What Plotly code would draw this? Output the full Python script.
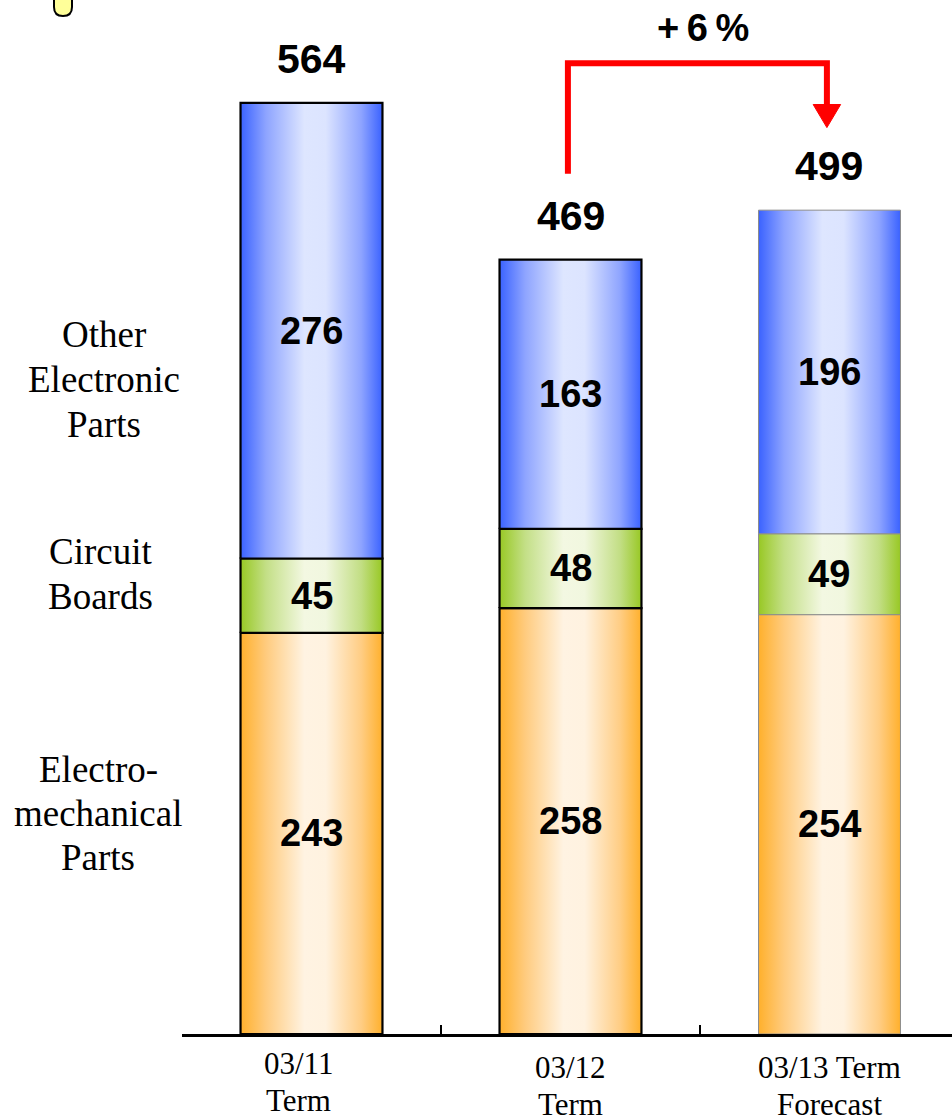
import plotly.graph_objects as go

# Sales by product group (units as shown)
terms = ["03/11<br>Term", "03/12<br>Term", "03/13 Term<br>Forecast"]
electromechanical = [243, 258, 254]
circuit_boards = [45, 48, 49]
other_electronic = [276, 163, 196]
totals = [564, 469, 499]

segment_names = ["Electro-<br>mechanical<br>Parts", "Circuit<br>Boards", "Other<br>Electronic<br>Parts"]

# horizontal gradients: saturated edges, pale centre
gradients = [
    [[0, "#ffb02c"], [0.18, "#ffcb7e"], [0.45, "#fff3e2"], [0.6, "#fff2e0"], [0.85, "#ffcd84"], [1, "#ffb02c"]],
    [[0, "#98c824"], [0.18, "#c3df86"], [0.45, "#f3f8e2"], [0.6, "#f1f7df"], [0.85, "#c2de84"], [1, "#98c824"]],
    [[0, "#3a62ff"], [0.18, "#8ea4ff"], [0.45, "#dee6ff"], [0.6, "#dce4ff"], [0.85, "#8ea4ff"], [1, "#3a62ff"]],
]

bar_width = 0.548
series = [electromechanical, circuit_boards, other_electronic]

# plot-area geometry in pixels (used to place text outside the axes)
PLOT_LEFT, PLOT_W, PLOT_BOTTOM, PLOT_H = 182, 770, 1034, 1034
to_px_x = lambda v: (v - PLOT_LEFT) / PLOT_W
to_px_y = lambda v: (PLOT_BOTTOM - v) / PLOT_H

serif = dict(family="Liberation Serif", color="black")
sans_bold = dict(family="Liberation Sans", color="black", weight="bold")

fig = go.Figure()
annotations = []


def add_lines(text, x, xref, first_line_px, spacing, size, xshift=0):
    """Place each line of a multi-line label separately for tight line spacing."""
    for k, line in enumerate(text.split("<br>")):
        annotations.append(dict(
            x=x, xref=xref, y=to_px_y(first_line_px + k * spacing), yref="paper",
            yanchor="middle", xanchor="center", xshift=xshift,
            text=line, showarrow=False, font=dict(size=size, **serif),
        ))


for i, term in enumerate(terms):
    base = 0
    forecast = i == len(terms) - 1
    edge = dict(color="#8c8c8c", width=1) if forecast else dict(color="black", width=2.2)
    for s, values in enumerate(series):
        v = values[i]
        x0, x1 = i - bar_width / 2, i + bar_width / 2
        fig.add_trace(go.Scatter(
            x=[x0, x1, x1, x0, x0],
            y=[base, base, base + v, base + v, base],
            mode="lines",
            fill="toself",
            fillgradient=dict(type="horizontal", colorscale=gradients[s]),
            line=edge,
            hoverinfo="skip",
            showlegend=False,
        ))
        annotations.append(dict(
            x=i, y=base + v / 2, xref="x", yref="y",
            text=str(v), showarrow=False,
            font=dict(size=38, **sans_bold),
        ))
        base += v
    # total above bar
    annotations.append(dict(
        x=i, y=totals[i], xref="x", yref="y", yshift=44,
        text=str(totals[i]), showarrow=False,
        font=dict(size=41, **sans_bold),
    ))

# category labels under the axis
add_lines(terms[0], 0, "x", 1063, 37, 31, xshift=-13)
add_lines(terms[1], 1, "x", 1067, 37, 31)
add_lines(terms[2], 2, "x", 1067, 37, 31)

# segment names on the left
add_lines(segment_names[2], to_px_x(104), "paper", 334, 45, 37)
add_lines(segment_names[1], to_px_x(100), "paper", 551, 45, 37)
add_lines(segment_names[0], to_px_x(98), "paper", 769, 44, 37)

# growth arrow from 03/12 to 03/13 forecast
growth = round((totals[2] / totals[1] - 1) * 100)
arrow_top = 588
start_y = totals[1] + 52
tip_y = totals[2] + 50
head_h = 14
head_w = 0.053
shapes = [
    dict(type="path", xref="x", yref="y",
         path=f"M 0.99,{start_y} L 0.99,{arrow_top} L 1.99,{arrow_top} L 1.99,{tip_y + head_h}",
         line=dict(color="#ff0000", width=6), layer="above"),
    dict(type="path", xref="x", yref="y",
         path=f"M {1.99 - head_w},{tip_y + head_h} L {1.99 + head_w},{tip_y + head_h} L 1.99,{tip_y} Z",
         fillcolor="#ff0000", line=dict(color="#ff0000", width=1), layer="above"),
]
annotations.append(dict(
    x=1.5, y=arrow_top, xref="x", yref="y", yshift=35, xshift=3,
    text=f"+\u2009{growth}\u2009%", showarrow=False,
    font=dict(size=38, **sans_bold),
))

# small bullet marker in the corner
shapes.append(dict(
    type="path", xref="paper", yref="paper",
    path=(f"M {to_px_x(54)},{to_px_y(-10)} L {to_px_x(54)},{to_px_y(7)} "
          f"Q {to_px_x(54)},{to_px_y(16)} {to_px_x(63)},{to_px_y(16)} "
          f"Q {to_px_x(72)},{to_px_y(16)} {to_px_x(72)},{to_px_y(7)} L {to_px_x(72)},{to_px_y(-10)} Z"),
    fillcolor="#ffff99", line=dict(color="black", width=2),
))

fig.update_layout(
    width=952, height=1119,
    margin=dict(l=PLOT_LEFT, r=0, t=0, b=1119 - PLOT_BOTTOM),
    plot_bgcolor="white", paper_bgcolor="white",
    xaxis=dict(range=[-0.5, 2.473], showgrid=False, zeroline=False,
               showline=True, linecolor="black", linewidth=3,
               tickvals=[-0.5, 0.5, 1.5, 2.5], ticks="inside", ticklen=9,
               tickwidth=2, tickcolor="black", showticklabels=False, fixedrange=True),
    yaxis=dict(range=[0, 626.3], visible=False, fixedrange=True),
    annotations=annotations,
    shapes=shapes,
    showlegend=False,
)

fig.write_html("out.html")
